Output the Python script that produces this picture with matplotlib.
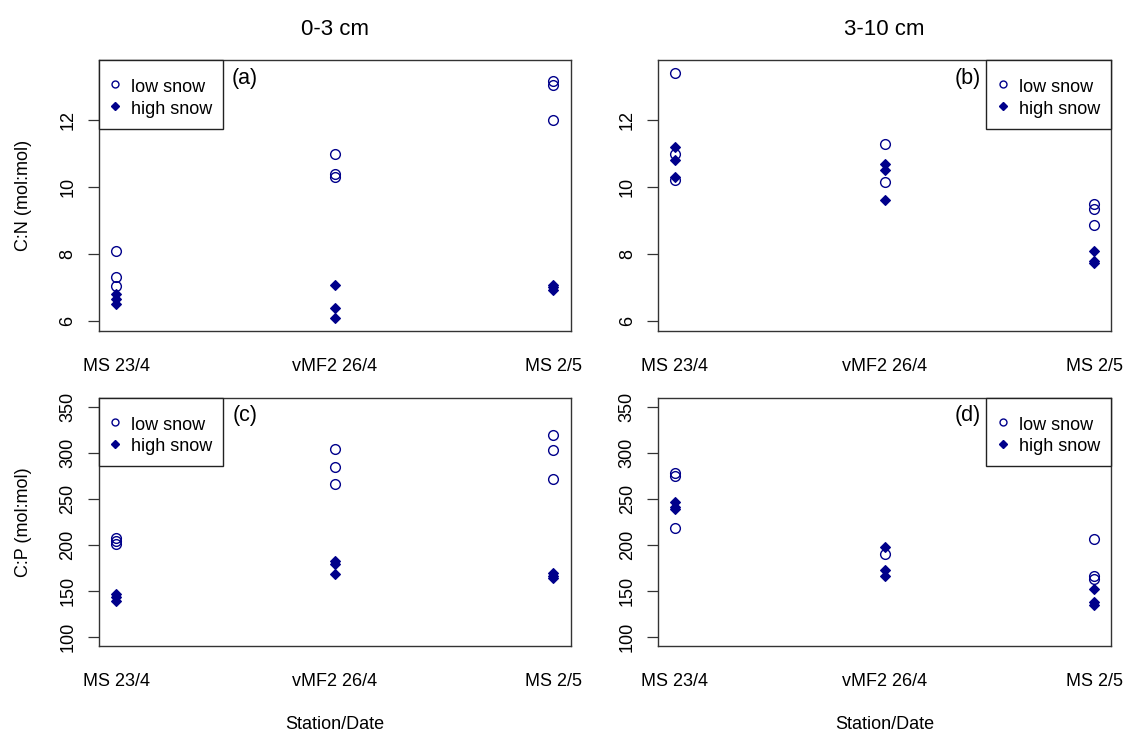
import matplotlib.pyplot as plt
from matplotlib.lines import Line2D

stations = ['MS 23/4', 'vMF2 26/4', 'MS 2/5']

# C:N ratios, 0-3 cm (one list per station)
cn_top_low = [[8.1, 7.3, 7.05], [11.0, 10.4, 10.3], [13.18, 13.05, 12.02]]
cn_top_high = [[6.8, 6.65, 6.5], [7.07, 6.38, 6.08], [7.08, 7.0, 6.92]]

# C:N ratios, 3-10 cm
cn_deep_low = [[13.4, 11.0, 10.2], [11.3, 10.15], [9.5, 9.35, 8.85]]
cn_deep_high = [[11.2, 10.8, 10.3], [10.7, 10.5, 9.62], [8.08, 7.8, 7.72]]

# C:P ratios, 0-3 cm
cp_top_low = [[207, 204, 201], [304.5, 284.5, 266.5], [319, 303, 271]]
cp_top_high = [[146, 142.5, 138.5], [182.5, 179.5, 168], [169, 166, 164]]

# C:P ratios, 3-10 cm
cp_deep_low = [[278.5, 275, 218.5], [189.5], [206, 166, 162.5]]
cp_deep_high = [[247, 240.5, 238.5], [198, 172, 166], [151.5, 137.5, 134]]

plt.rcParams['font.family'] = ['Liberation Sans', 'DejaVu Sans']
plt.rcParams['font.size'] = 13

col = 'darkblue'

fig = plt.figure(figsize=(11.44, 7.33), dpi=100)
ax_a = fig.add_axes([0.0863, 0.5488, 0.4126, 0.3693])
ax_b = fig.add_axes([0.5752, 0.5488, 0.3960, 0.3693])
ax_c = fig.add_axes([0.0863, 0.1191, 0.4126, 0.3383])
ax_d = fig.add_axes([0.5752, 0.1191, 0.3960, 0.3383])

panels = [
    (ax_a, cn_top_low, cn_top_high, '(a)', 'upper left'),
    (ax_b, cn_deep_low, cn_deep_high, '(b)', 'upper right'),
    (ax_c, cp_top_low, cp_top_high, '(c)', 'upper left'),
    (ax_d, cp_deep_low, cp_deep_high, '(d)', 'upper right'),
]

for ax, low, high, tag, loc in panels:
    # open circles first, filled diamonds drawn over them
    for i, vals in enumerate(low):
        ax.plot([i + 1] * len(vals), vals, linestyle='none', marker='o', ms=7,
                mfc='none', mec=col, mew=1.0)
    for i, vals in enumerate(high):
        ax.plot([i + 1] * len(vals), vals, linestyle='none', marker='D', ms=5,
                mfc=col, mec=col, mew=0.8)

    ax.set_xlim(0.92, 3.08)
    ax.set_xticks([1, 2, 3])
    ax.set_xticklabels(stations)
    ax.tick_params(axis='x', length=0, pad=19.5)
    ax.tick_params(axis='y', length=8, width=0.9, pad=8, labelrotation=90, color='#333333')
    for lab in ax.get_yticklabels():
        lab.set_va('center')
    for sp in ax.spines.values():
        sp.set_color('#333333')
        sp.set_linewidth(1.0)

    ax.text(0.31 if loc == 'upper left' else 0.684, 0.93, tag, transform=ax.transAxes,
            ha='center', va='center', fontsize=15.5)

    handles = [Line2D([], [], linestyle='none', marker='o', ms=5, mfc='none', mec=col, mew=1.0),
               Line2D([], [], linestyle='none', marker='D', ms=4, mfc=col, mec=col)]
    # the tiny blank title pushes the two rows a little lower in the box
    leg = ax.legend(handles, ['low snow', 'high snow'], loc=loc, borderaxespad=0,
                    fancybox=False, framealpha=1, edgecolor='#222222', borderpad=0.6,
                    handlelength=0.6, handleheight=1.25, handletextpad=0.6,
                    labelspacing=0.1, fontsize=13, title=' ', title_fontsize=2)
    leg.get_frame().set_linewidth(1.0)

for ax in (ax_a, ax_b):
    ax.set_ylim(5.7, 13.8)
    ax.set_yticks([6, 8, 10, 12])
for ax in (ax_c, ax_d):
    ax.set_ylim(90, 360)
    ax.set_yticks([100, 150, 200, 250, 300, 350])

ax_a.set_ylabel('C:N (mol:mol)', fontsize=13, labelpad=20)
ax_c.set_ylabel('C:P (mol:mol)', fontsize=13, labelpad=20)
ax_c.set_xlabel('Station/Date', fontsize=13, labelpad=19)
ax_d.set_xlabel('Station/Date', fontsize=13, labelpad=19)
ax_a.set_title('0-3 cm', fontsize=16, pad=18)
ax_b.set_title('3-10 cm', fontsize=16, pad=18)

fig.savefig('out.png', dpi=100)
